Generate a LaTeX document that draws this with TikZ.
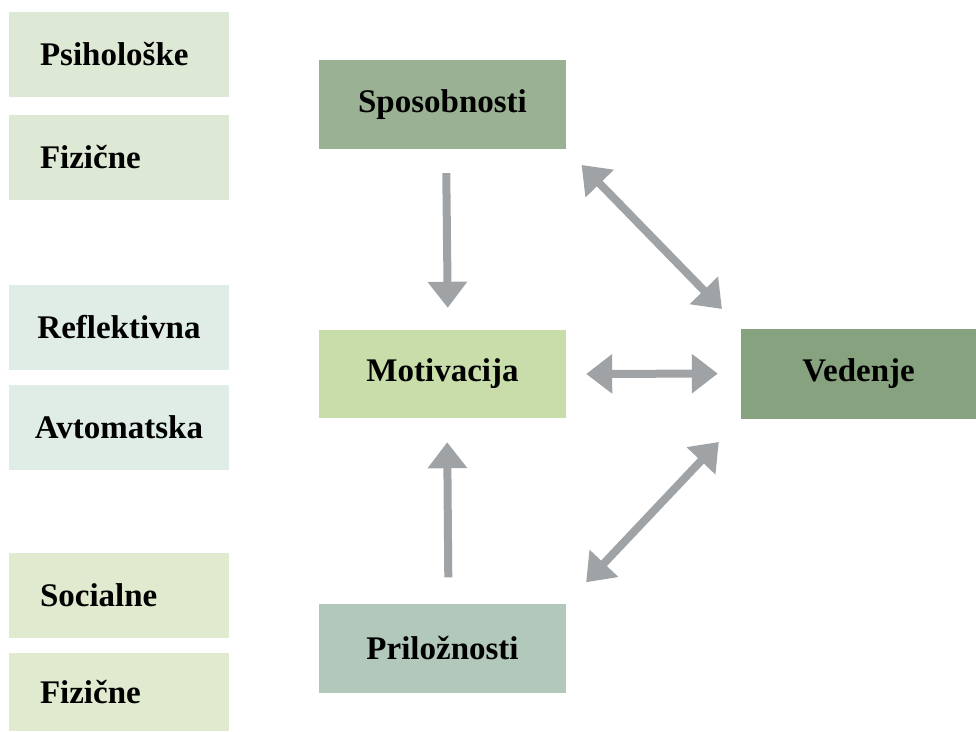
\documentclass[tikz,border=0pt]{standalone}
\usepackage{fontspec}
\setmainfont{Liberation Serif}
\usepackage{xcolor}
\usetikzlibrary{positioning,calc,arrows.meta}
\definecolor{psiC}{HTML}{DDE8D5}
\definecolor{refC}{HTML}{DFEDE6}
\definecolor{socC}{HTML}{DFEACF}
\definecolor{sposC}{HTML}{9BB193}
\definecolor{motC}{HTML}{C9DDAA}
\definecolor{prilC}{HTML}{B1C8BB}
\definecolor{vedC}{HTML}{87A27F}
\definecolor{arrowgray}{HTML}{A0A3A6}
\tikzset{
    box/.style={inner sep=0pt, font=\fontsize{33}{39}\selectfont\bfseries},
    smallbox/.style={box, minimum width=220pt, minimum height=85pt},
    bigbox/.style={box, minimum width=247pt, minimum height=89pt},
    lefttext/.style={text width=158pt, inner xsep=31pt, align=left},
    link/.style={line width=8pt, draw=arrowgray, -{Triangle[width=38pt,length=26pt]}},
    bothlink/.style={link, {Triangle[width=38pt,length=26pt]}-{Triangle[width=38pt,length=26pt]}}
}

\begin{document}
\begin{tikzpicture}[x=1pt,y=-1pt]
    \useasboundingbox (0,0) rectangle (976,731);
    % Left column
    \node[smallbox, lefttext, fill=psiC] (psih) at (119,54.5) {Psihološke};
    \node[smallbox, lefttext, fill=psiC] (fizA) at (119,157.5) {Fizične};
    \node[smallbox, fill=refC] (refl) at (119,327) {Reflektivna};
    \node[smallbox, fill=refC] (avto) at (119,427.5) {Avtomatska};
    \node[smallbox, lefttext, fill=socC] (soc) at (119,595) {Socialne};
    \node[smallbox, lefttext, fill=socC, minimum height=78pt] (fizB) at (119,692) {Fizične};
    % Main boxes
    \node[bigbox, fill=sposC] (spos) at (442.5,104.5) {Sposobnosti};
    \node[bigbox, fill=motC, minimum height=88pt] (mot) at (442.5,374) {Motivacija};
    \node[bigbox, fill=prilC] (pril) at (442.5,648) {Priložnosti};
    \node[bigbox, fill=vedC, minimum width=235pt, minimum height=90pt] (ved) at (858.5,373.5) {Vedenje};
    % Arrows
    \draw[link, shorten <=24pt, shorten >=22pt] ([xshift=3.5pt]spos.south) -- ([xshift=5.5pt]mot.north);
    \draw[link, shorten <=26pt, shorten >=24pt] ([xshift=6pt]pril.north) -- ([xshift=4.5pt]mot.south);
    \draw[bothlink, shorten <=20pt, shorten >=23pt] (mot.east) -- (ved.west);
    \draw[bothlink, shorten <=22pt, shorten >=27pt] (spos.south east) -- (ved.north west);
    \draw[bothlink, shorten <=29pt, shorten >=32pt] (pril.north east) -- (ved.south west);
\end{tikzpicture}
\end{document}
